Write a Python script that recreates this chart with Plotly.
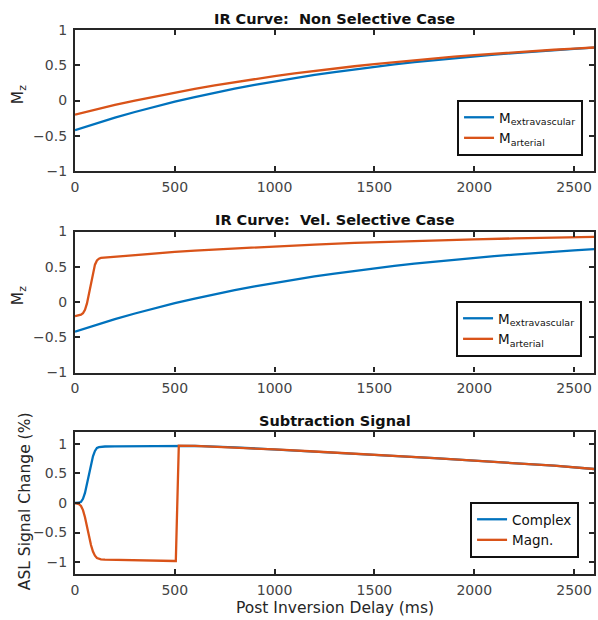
import plotly.graph_objects as go

# ---------------- data ----------------
t_ir = [0, 100, 200, 300, 400, 500, 600, 700, 800, 900, 1000, 1100, 1200, 1300,
        1400, 1500, 1600, 1700, 1800, 1900, 2000, 2100, 2200, 2300, 2400, 2500, 2600]
m_extravascular = [-0.420, -0.328, -0.243, -0.163, -0.088, -0.017, 0.048, 0.110, 0.167,
                   0.221, 0.271, 0.318, 0.362, 0.403, 0.442, 0.478, 0.511, 0.543, 0.572,
                   0.600, 0.626, 0.650, 0.672, 0.694, 0.713, 0.732, 0.749]
m_arterial_nonsel = [-0.200, -0.129, -0.063, -0.001, 0.058, 0.114, 0.166, 0.215, 0.261,
                     0.304, 0.345, 0.384, 0.420, 0.454, 0.486, 0.517, 0.545, 0.572, 0.597,
                     0.621, 0.643, 0.664, 0.684, 0.702, 0.720, 0.736, 0.752]

t_arterial_vs = [0, 10, 20, 30, 40, 50, 60, 70, 80, 90, 100, 110, 120, 130, 150, 200,
                 300, 400, 500, 600, 700, 800, 900, 1000, 1200, 1400, 1600, 1800, 2000,
                 2200, 2400, 2600]
m_arterial_vs = [-0.200, -0.195, -0.190, -0.180, -0.160, -0.110, -0.020, 0.120, 0.280,
                 0.420, 0.530, 0.590, 0.615, 0.625, 0.630, 0.645, 0.668, 0.690, 0.710,
                 0.730, 0.745, 0.760, 0.775, 0.790, 0.815, 0.838, 0.857, 0.874, 0.889,
                 0.902, 0.913, 0.923]

t_complex = [0, 10, 20, 30, 40, 50, 60, 70, 80, 90, 100, 110, 120, 130, 150, 200, 300,
             400, 500, 520, 600, 800, 1000, 1200, 1400, 1600, 1800, 2000, 2200, 2400, 2600]
s_complex = [0.000, 0.002, 0.005, 0.020, 0.070, 0.170, 0.320, 0.500, 0.660, 0.790, 0.880,
             0.930, 0.945, 0.952, 0.955, 0.958, 0.962, 0.966, 0.968, 0.970, 0.965, 0.940,
             0.905, 0.870, 0.835, 0.800, 0.760, 0.715, 0.675, 0.630, 0.575]

t_magn = [0, 10, 20, 30, 40, 50, 60, 70, 80, 90, 100, 110, 120, 130, 150, 200, 300, 400,
          500, 505, 520, 600, 800, 1000, 1200, 1400, 1600, 1800, 2000, 2200, 2400, 2600]
s_magn = [0.000, -0.005, -0.020, -0.050, -0.120, -0.240, -0.400, -0.570, -0.710, -0.820,
          -0.890, -0.930, -0.945, -0.952, -0.957, -0.962, -0.968, -0.975, -0.980, -0.980,
          0.970, 0.965, 0.940, 0.905, 0.870, 0.835, 0.800, 0.760, 0.715, 0.675, 0.630, 0.575]

x_ticks = [0, 500, 1000, 1500, 2000, 2500]
y_ticks = [-1, -0.5, 0, 0.5, 1]
y_ticklabels = ["\u22121", "\u22120.5", "0", "0.5", "1"]

titles = ["IR Curve:  Non Selective Case", "IR Curve:  Vel. Selective Case", "Subtraction Signal"]
x_label = "Post Inversion Delay (ms)"
y_labels = ["M<sub>z</sub>", "M<sub>z</sub>", "ASL Signal Change (%)"]

# ---------------- styling ----------------
BLUE = "#0072BD"
ORANGE = "#D95319"
FONT = "DejaVu Sans"
AX = "#262626"
TICKC = "#444444"
LW = 2.3

fig = go.Figure()

fig.add_trace(go.Scatter(x=t_ir, y=m_extravascular, mode="lines", name="M<sub>extravascular</sub>",
                         line=dict(color=BLUE, width=LW), xaxis="x", yaxis="y", legend="legend"))
fig.add_trace(go.Scatter(x=t_ir, y=m_arterial_nonsel, mode="lines", name="M<sub>arterial</sub>",
                         line=dict(color=ORANGE, width=LW), xaxis="x", yaxis="y", legend="legend"))
fig.add_trace(go.Scatter(x=t_ir, y=m_extravascular, mode="lines", name="M<sub>extravascular</sub>",
                         line=dict(color=BLUE, width=LW), xaxis="x2", yaxis="y2", legend="legend2"))
fig.add_trace(go.Scatter(x=t_arterial_vs, y=m_arterial_vs, mode="lines", name="M<sub>arterial</sub>",
                         line=dict(color=ORANGE, width=LW), xaxis="x2", yaxis="y2", legend="legend2"))
fig.add_trace(go.Scatter(x=t_complex, y=s_complex, mode="lines", name="Complex",
                         line=dict(color=BLUE, width=LW), xaxis="x3", yaxis="y3", legend="legend3"))
fig.add_trace(go.Scatter(x=t_magn, y=s_magn, mode="lines", name="Magn.",
                         line=dict(color=ORANGE, width=LW), xaxis="x3", yaxis="y3", legend="legend3"))

W, H = 598, 620
ML, MR, MT, MB = 75, 2, 30, 46
PH = H - MT - MB


def py(pix):
    return (H - MB - pix) / PH


def px(pix):
    return (pix - ML) / (W - ML - MR)


domains = [[py(171), 1.0], [py(372.5), py(231.5)], [0.0, py(432)]]
yranges = [[-1, 1], [-1, 1], [-1.2, 1.2]]

common_axis = dict(showline=True, linecolor=AX, linewidth=2.2, mirror="ticks",
                   ticks="inside", ticklen=5, tickwidth=2, tickcolor=AX,
                   showgrid=False, zeroline=False,
                   tickfont=dict(family=FONT, size=14, color=TICKC))

layout = dict(width=W, height=H, margin=dict(l=ML, r=MR, t=MT, b=MB),
              paper_bgcolor="white", plot_bgcolor="white",
              font=dict(family=FONT, size=14, color=AX))

for i in range(3):
    sfx = "" if i == 0 else str(i + 1)
    layout["xaxis" + sfx] = dict(common_axis, domain=[0, 1], range=[0, 2600],
                                 tickvals=x_ticks, anchor="y" + sfx, ticklabelstandoff=2)
    layout["yaxis" + sfx] = dict(common_axis, domain=domains[i], range=yranges[i],
                                 tickvals=y_ticks, ticktext=y_ticklabels, anchor="x" + sfx,
                                 ticklabelstandoff=3)

leg_common = dict(bgcolor="white", bordercolor="#111", borderwidth=2,
                  xanchor="right", yanchor="bottom",
                  font=dict(family=FONT, size=13.5, color="#111"),
                  tracegroupgap=0)
layout["legend"] = dict(leg_common, x=px(585), y=py(156), entrywidth=134, entrywidthmode="pixels")
layout["legend2"] = dict(leg_common, x=px(584), y=py(357), entrywidth=134, entrywidthmode="pixels")
layout["legend3"] = dict(leg_common, x=px(581), y=py(558), entrywidth=104, entrywidthmode="pixels")

fig.update_layout(**layout)

ann = []
title_y = [py(19), py(219.5), py(421)]
for i in range(3):
    ann.append(dict(text="<b>%s</b>" % titles[i], x=0.5, y=title_y[i], xref="paper", yref="paper",
                    xanchor="center", yanchor="middle", showarrow=False,
                    font=dict(family=FONT, size=14.5, color="#111")))
y_centers = [95, 296, 501]
y_xpos = [19, 19, 25]
for i in range(3):
    ann.append(dict(text=y_labels[i], x=px(y_xpos[i]), y=py(y_centers[i]), xref="paper", yref="paper",
                    xanchor="center", yanchor="middle", textangle=-90, showarrow=False,
                    font=dict(family=FONT, size=15.5, color=AX)))
ann.append(dict(text=x_label, x=0.5, y=py(608), xref="paper", yref="paper",
                xanchor="center", yanchor="middle", showarrow=False,
                font=dict(family=FONT, size=15.5, color=AX)))
fig.update_layout(annotations=ann)

fig.write_html("out.html", config={"displayModeBar": False},
               post_script="document.body.style.margin='0';document.body.style.overflow='hidden';")
